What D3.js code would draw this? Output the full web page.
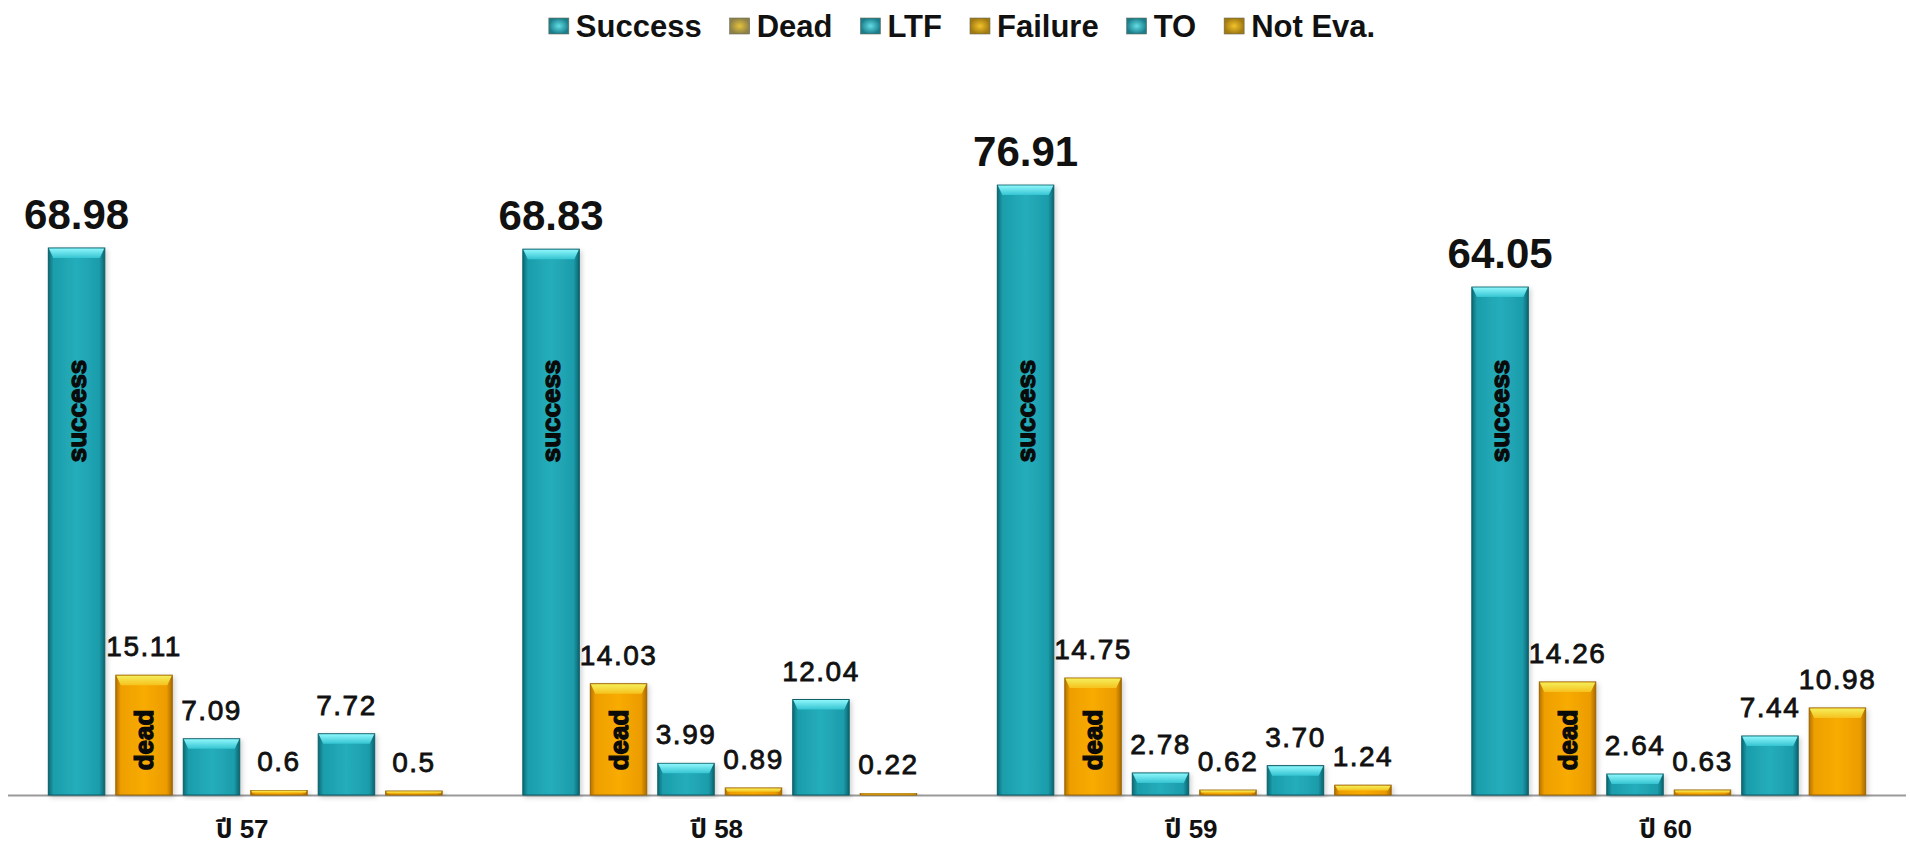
<!DOCTYPE html>
<html>
<head>
<meta charset="utf-8">
<script src="https://cdn.jsdelivr.net/npm/d3@7"></script>
<style>
  html, body { margin: 0; padding: 0; background: #ffffff; }
  svg { display: block; }
  .val { font-family: "Liberation Sans", Arial, sans-serif; fill: #111; }
  .inner { font-family: "Liberation Sans", Arial, sans-serif; font-weight: bold; fill: #0a0a0a; }
  .legend text { font-family: "Liberation Sans", Arial, sans-serif; font-weight: bold; fill: #111; }
  .xlab { font-family: "Liberation Sans", "Noto Sans Thai", "DejaVu Sans", "Noto Sans", sans-serif; font-weight: bold; fill: #111; }
</style>
</head>
<body>
<svg id="chart" width="1910" height="850"></svg>
<script>
// Treatment outcome (%) by fiscal year
const categories = ["ปี 57", "ปี 58", "ปี 59", "ปี 60"];
const seriesNames = ["Success", "Dead", "LTF", "Failure", "TO", "Not Eva."];

// values as printed on the chart
const success = ["68.98", "68.83", "76.91", "64.05"];
const dead    = ["15.11", "14.03", "14.75", "14.26"];
const ltf     = ["7.09", "3.99", "2.78", "2.64"];
const failure = ["0.6", "0.89", "0.62", "0.63"];
const to      = ["7.72", "12.04", "3.70", "7.44"];
const notEva  = ["0.5", "0.22", "1.24", "10.98"];

const seriesValues = [success, dead, ltf, failure, to, notEva];
const seriesTone = ["teal", "orange", "teal", "orange", "teal", "orange"];
// words written inside the bars of a series
const innerWords = { "Success": "success", "Dead": "dead" };

const svg = d3.select("#chart");
const baseY = 795;

const x0 = d3.scaleBand().domain(categories).range([8, 1906])
  .paddingInner(0.17).paddingOuter(0.085);
const x1 = d3.scaleBand().domain(seriesNames).range([0, x0.bandwidth()])
  .paddingInner(0.163).paddingOuter(0);
const y = d3.scaleLinear().domain([0, 80]).range([baseY, 160.6]);

// gradients for the bevelled bars
const defs = svg.append("defs");
function hGrad(id, stops) {
  const g = defs.append("linearGradient").attr("id", id)
    .attr("x1", "0%").attr("x2", "100%").attr("y1", "0%").attr("y2", "0%");
  stops.forEach(s => g.append("stop").attr("offset", s[0]).attr("stop-color", s[1]));
}
function vGrad(id, stops) {
  const g = defs.append("linearGradient").attr("id", id)
    .attr("x1", "0%").attr("x2", "0%").attr("y1", "0%").attr("y2", "100%");
  stops.forEach(s => g.append("stop").attr("offset", s[0]).attr("stop-color", s[1]));
}
function rGrad(id, inner, outer) {
  const g = defs.append("radialGradient").attr("id", id);
  g.append("stop").attr("offset", "0%").attr("stop-color", inner);
  g.append("stop").attr("offset", "100%").attr("stop-color", outer);
}
hGrad("tealBody", [["0%", "#0b6a75"], ["9%", "#1b9dab"], ["50%", "#25adbb"], ["90%", "#1c9cab"], ["100%", "#0a6470"]]);
vGrad("tealTop", [["0%", "#8ef6fb"], ["100%", "#34c4d2"]]);
hGrad("orangeBody", [["0%", "#b57200"], ["9%", "#ee9f00"], ["50%", "#f8ab05"], ["90%", "#ec9c00"], ["100%", "#a96a00"]]);
vGrad("orangeTop", [["0%", "#f4ee5a"], ["100%", "#f6c21e"]]);
rGrad("swTeal", "#63dde6", "#1a7e8a");
rGrad("swDead", "#e4c23a", "#8d8048");
rGrad("swGold", "#f3c22a", "#a07a12");

const shadow = defs.append("filter").attr("id", "barShadow")
  .attr("x", "-20%").attr("y", "-5%").attr("width", "140%").attr("height", "115%");
shadow.append("feDropShadow").attr("dx", 2).attr("dy", 2).attr("stdDeviation", 2.5)
  .attr("flood-color", "#000").attr("flood-opacity", 0.18);

// axis baseline
svg.append("line")
  .attr("x1", x0.range()[0]).attr("x2", x0.range()[1])
  .attr("y1", baseY + 0.5).attr("y2", baseY + 0.5)
  .attr("stroke", "#9a9a9a").attr("stroke-width", 2);

// flatten into one record per bar
const bars = [];
categories.forEach((c, ci) => {
  seriesNames.forEach((s, si) => {
    const txt = seriesValues[si][ci];
    bars.push({ cat: c, series: s, label: txt, v: +txt, tone: seriesTone[si] });
  });
});

const gBars = svg.append("g");
const bar = gBars.selectAll("g.bar").data(bars).join("g")
  .attr("class", "bar")
  .attr("transform", d => `translate(${x0(d.cat) + x1(d.series)},0)`);

const bw = x1.bandwidth();

bar.append("rect")
  .attr("x", 0).attr("width", bw)
  .attr("y", d => y(d.v)).attr("height", d => baseY - y(d.v))
  .attr("fill", d => d.tone === "teal" ? "url(#tealBody)" : "url(#orangeBody)")
  .attr("stroke", d => d.tone === "teal" ? "#0a5d66" : "#9a6400")
  .attr("stroke-width", 1)
  .attr("filter", "url(#barShadow)");

// bevelled top face
bar.append("path")
  .attr("d", d => {
    const t = y(d.v), h = baseY - t;
    const b = Math.min(10, h * 0.55), i = Math.min(5, b * 0.6);
    return `M0.5,${t + 0.5}L${bw - 0.5},${t + 0.5}L${bw - i},${t + b}L${i},${t + b}Z`;
  })
  .attr("fill", d => d.tone === "teal" ? "url(#tealTop)" : "url(#orangeTop)");

// value labels above the bars
bar.append("text")
  .attr("class", "val")
  .attr("x", bw / 2)
  .attr("y", d => y(d.v) - 19)
  .attr("text-anchor", "middle")
  .style("font-size", d => d.series === "Success" ? "42px" : "28px")
  .style("font-weight", d => d.series === "Success" ? "bold" : "normal")
  .style("letter-spacing", d => d.series === "Success" ? "0px" : "1.5px")
  .attr("stroke", "#111")
  .attr("stroke-width", d => d.series === "Success" ? 0 : 0.8)
  .text(d => d.label);

// vertical words inside the Success and Dead bars
const innerY = { "Success": 411, "Dead": 740 };
bar.filter(d => innerWords[d.series])
  .append("text")
  .attr("class", "inner")
  .attr("transform", d => `translate(${bw / 2},${innerY[d.series]}) rotate(-90)`)
  .attr("text-anchor", "middle")
  .attr("dy", "0.36em")
  .attr("stroke", "#0a0a0a")
  .attr("stroke-width", 1.3)
  .style("font-size", "26px")
  .text(d => innerWords[d.series]);

// category labels
svg.append("g").selectAll("text").data(categories).join("text")
  .attr("class", "xlab")
  .attr("x", d => x0(d) + x0.bandwidth() / 2 - 3)
  .attr("y", 838)
  .attr("text-anchor", "middle")
  .style("font-size", "26px")
  .text(d => d);

// legend across the top
const swatchFill = { "Success": "url(#swTeal)", "Dead": "url(#swDead)", "LTF": "url(#swTeal)",
  "Failure": "url(#swGold)", "TO": "url(#swTeal)", "Not Eva.": "url(#swGold)" };
const legend = svg.append("g").attr("class", "legend");
let lx = 0;
seriesNames.forEach(s => {
  const g = legend.append("g").attr("transform", `translate(${lx},0)`);
  g.append("rect").attr("x", 0).attr("y", 18).attr("width", 20).attr("height", 16)
    .attr("fill", swatchFill[s]).attr("stroke", "#6a6a5a").attr("stroke-width", 0.6);
  const t = g.append("text").attr("x", 27).attr("y", 37).style("font-size", "31px").text(s);
  const w = t.node().getComputedTextLength();
  lx += 27 + w + 28;
});
const legendWidth = lx - 28;
legend.attr("transform", `translate(${962 - legendWidth / 2},0)`);
</script>
</body>
</html>
